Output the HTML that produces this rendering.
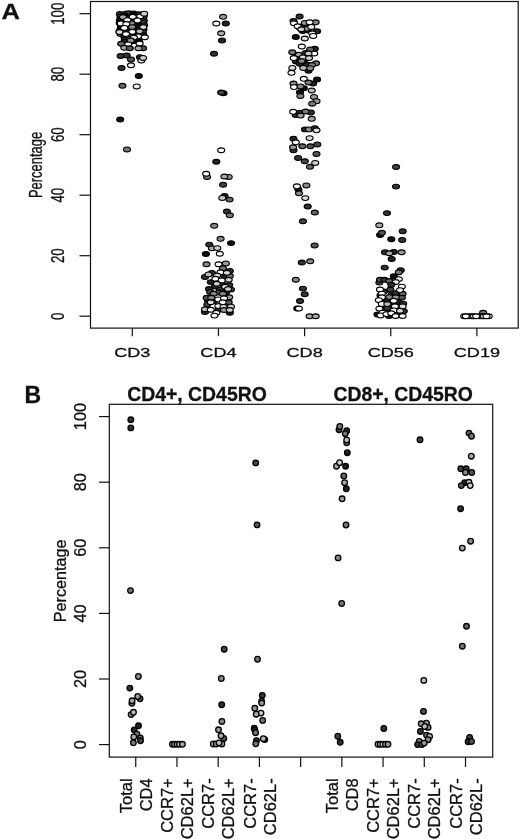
<!DOCTYPE html>
<html><head><meta charset="utf-8"><title>Figure</title>
<style>
html,body{margin:0;padding:0;background:#fff;}
body{width:520px;height:839px;overflow:hidden;font-family:"Liberation Sans",sans-serif;}
svg{display:block;filter:grayscale(1);}
text{font-family:"Liberation Sans",sans-serif;fill:#111;stroke:#111;stroke-width:0.3;}
.ax{stroke:#111;stroke-width:1.2;fill:none;}
.pa ellipse{stroke:#000;stroke-width:1.15;}
.pb circle{stroke:#000;stroke-width:1.3;}
</style></head><body>
<svg width="520" height="839" viewBox="0 0 520 839">
<rect width="520" height="839" fill="#fff"/>

<text transform="translate(1.6,18.5) scale(1.12,1)" font-size="22.8" font-weight="bold">A</text>
<rect class="ax" x="90.5" y="1.5" width="427.7" height="326.6"/>
<line class="ax" x1="79.5" y1="316.20" x2="90.5" y2="316.20"/>
<text transform="translate(63.5,316.20) rotate(-90) scale(0.76,1)" font-size="17.5" text-anchor="middle">0</text>
<line class="ax" x1="79.5" y1="255.70" x2="90.5" y2="255.70"/>
<text transform="translate(63.5,255.70) rotate(-90) scale(0.76,1)" font-size="17.5" text-anchor="middle">20</text>
<line class="ax" x1="79.5" y1="195.20" x2="90.5" y2="195.20"/>
<text transform="translate(63.5,195.20) rotate(-90) scale(0.76,1)" font-size="17.5" text-anchor="middle">40</text>
<line class="ax" x1="79.5" y1="134.70" x2="90.5" y2="134.70"/>
<text transform="translate(63.5,134.70) rotate(-90) scale(0.76,1)" font-size="17.5" text-anchor="middle">60</text>
<line class="ax" x1="79.5" y1="74.20" x2="90.5" y2="74.20"/>
<text transform="translate(63.5,74.20) rotate(-90) scale(0.76,1)" font-size="17.5" text-anchor="middle">80</text>
<line class="ax" x1="79.5" y1="13.70" x2="90.5" y2="13.70"/>
<text transform="translate(63.5,13.70) rotate(-90) scale(0.76,1)" font-size="17.5" text-anchor="middle">100</text>
<text transform="translate(41.5,165.0) rotate(-90) scale(0.74,1)" font-size="17.5" text-anchor="middle">Percentage</text>
<line class="ax" x1="132.30" y1="328.1" x2="132.30" y2="336.2"/>
<text transform="translate(132.30,357.3) scale(1.35,1)" font-size="13.4" text-anchor="middle">CD3</text>
<line class="ax" x1="218.45" y1="328.1" x2="218.45" y2="336.2"/>
<text transform="translate(218.45,357.3) scale(1.35,1)" font-size="13.4" text-anchor="middle">CD4</text>
<line class="ax" x1="304.60" y1="328.1" x2="304.60" y2="336.2"/>
<text transform="translate(304.60,357.3) scale(1.35,1)" font-size="13.4" text-anchor="middle">CD8</text>
<line class="ax" x1="390.75" y1="328.1" x2="390.75" y2="336.2"/>
<text transform="translate(390.75,357.3) scale(1.35,1)" font-size="13.4" text-anchor="middle">CD56</text>
<line class="ax" x1="476.90" y1="328.1" x2="476.90" y2="336.2"/>
<text transform="translate(476.90,357.3) scale(1.35,1)" font-size="13.4" text-anchor="middle">CD19</text>
<g class="pa">
<ellipse cx="119.9" cy="13.9" rx="3.5" ry="2.4" fill="#333"/>
<ellipse cx="125.6" cy="13.8" rx="3.5" ry="2.4" fill="#666"/>
<ellipse cx="128.8" cy="13.2" rx="3.5" ry="2.4" fill="#444"/>
<ellipse cx="133.7" cy="13.5" rx="3.5" ry="2.4" fill="#222"/>
<ellipse cx="138.7" cy="14.2" rx="3.5" ry="2.4" fill="#444"/>
<ellipse cx="143.1" cy="14.2" rx="3.5" ry="2.4" fill="#222"/>
<ellipse cx="120.5" cy="16.5" rx="3.5" ry="2.4" fill="#666"/>
<ellipse cx="124.7" cy="15.5" rx="3.5" ry="2.4" fill="#111"/>
<ellipse cx="129.0" cy="16.6" rx="3.5" ry="2.4" fill="#111"/>
<ellipse cx="133.8" cy="15.5" rx="3.5" ry="2.4" fill="#333"/>
<ellipse cx="138.7" cy="16.4" rx="3.5" ry="2.4" fill="#444"/>
<ellipse cx="143.6" cy="16.6" rx="3.5" ry="2.4" fill="#444"/>
<ellipse cx="120.7" cy="18.5" rx="3.5" ry="2.4" fill="#222"/>
<ellipse cx="125.5" cy="17.9" rx="3.5" ry="2.4" fill="#222"/>
<ellipse cx="129.5" cy="18.1" rx="3.5" ry="2.4" fill="#222"/>
<ellipse cx="134.0" cy="18.6" rx="3.5" ry="2.4" fill="#333"/>
<ellipse cx="138.6" cy="18.8" rx="3.5" ry="2.4" fill="#666"/>
<ellipse cx="143.1" cy="18.5" rx="3.5" ry="2.4" fill="#666"/>
<ellipse cx="119.9" cy="20.5" rx="3.5" ry="2.4" fill="#111"/>
<ellipse cx="125.5" cy="21.3" rx="3.5" ry="2.4" fill="#222"/>
<ellipse cx="129.8" cy="20.9" rx="3.5" ry="2.4" fill="#333"/>
<ellipse cx="134.8" cy="21.2" rx="3.5" ry="2.4" fill="#666"/>
<ellipse cx="138.1" cy="20.9" rx="3.5" ry="2.4" fill="#222"/>
<ellipse cx="143.8" cy="20.8" rx="3.5" ry="2.4" fill="#333"/>
<ellipse cx="119.7" cy="23.0" rx="3.5" ry="2.4" fill="#222"/>
<ellipse cx="125.7" cy="22.5" rx="3.5" ry="2.4" fill="#111"/>
<ellipse cx="129.4" cy="22.6" rx="3.5" ry="2.4" fill="#333"/>
<ellipse cx="134.0" cy="22.9" rx="3.5" ry="2.4" fill="#111"/>
<ellipse cx="138.0" cy="23.1" rx="3.5" ry="2.4" fill="#111"/>
<ellipse cx="143.1" cy="23.1" rx="3.5" ry="2.4" fill="#666"/>
<ellipse cx="120.9" cy="25.9" rx="3.5" ry="2.4" fill="#666"/>
<ellipse cx="124.5" cy="24.7" rx="3.5" ry="2.4" fill="#111"/>
<ellipse cx="128.8" cy="25.4" rx="3.5" ry="2.4" fill="#111"/>
<ellipse cx="134.8" cy="25.9" rx="3.5" ry="2.4" fill="#333"/>
<ellipse cx="138.9" cy="24.9" rx="3.5" ry="2.4" fill="#111"/>
<ellipse cx="144.1" cy="25.1" rx="3.5" ry="2.4" fill="#333"/>
<ellipse cx="121.0" cy="28.1" rx="3.5" ry="2.4" fill="#444"/>
<ellipse cx="124.7" cy="28.0" rx="3.5" ry="2.4" fill="#444"/>
<ellipse cx="129.7" cy="27.7" rx="3.5" ry="2.4" fill="#666"/>
<ellipse cx="133.5" cy="28.2" rx="3.5" ry="2.4" fill="#666"/>
<ellipse cx="138.3" cy="27.8" rx="3.5" ry="2.4" fill="#222"/>
<ellipse cx="142.9" cy="27.4" rx="3.5" ry="2.4" fill="#333"/>
<ellipse cx="120.3" cy="30.0" rx="3.5" ry="2.4" fill="#111"/>
<ellipse cx="125.4" cy="30.5" rx="3.5" ry="2.4" fill="#333"/>
<ellipse cx="128.7" cy="30.0" rx="3.5" ry="2.4" fill="#222"/>
<ellipse cx="133.5" cy="30.1" rx="3.5" ry="2.4" fill="#333"/>
<ellipse cx="138.6" cy="30.1" rx="3.5" ry="2.4" fill="#333"/>
<ellipse cx="143.5" cy="29.6" rx="3.5" ry="2.4" fill="#444"/>
<ellipse cx="119.5" cy="31.7" rx="3.5" ry="2.4" fill="#222"/>
<ellipse cx="124.1" cy="32.0" rx="3.5" ry="2.4" fill="#222"/>
<ellipse cx="129.4" cy="32.3" rx="3.5" ry="2.4" fill="#333"/>
<ellipse cx="133.6" cy="31.8" rx="3.5" ry="2.4" fill="#333"/>
<ellipse cx="139.3" cy="31.9" rx="3.5" ry="2.4" fill="#444"/>
<ellipse cx="142.7" cy="32.6" rx="3.5" ry="2.4" fill="#666"/>
<ellipse cx="120.6" cy="34.1" rx="3.5" ry="2.4" fill="#666"/>
<ellipse cx="124.5" cy="34.9" rx="3.5" ry="2.4" fill="#222"/>
<ellipse cx="129.2" cy="34.7" rx="3.5" ry="2.4" fill="#222"/>
<ellipse cx="134.4" cy="34.0" rx="3.5" ry="2.4" fill="#333"/>
<ellipse cx="139.4" cy="34.7" rx="3.5" ry="2.4" fill="#222"/>
<ellipse cx="143.2" cy="34.9" rx="3.5" ry="2.4" fill="#222"/>
<ellipse cx="124.4" cy="36.9" rx="3.5" ry="2.4" fill="#333"/>
<ellipse cx="129.1" cy="36.3" rx="3.5" ry="2.4" fill="#666"/>
<ellipse cx="134.8" cy="36.6" rx="3.5" ry="2.4" fill="#666"/>
<ellipse cx="138.2" cy="36.5" rx="3.5" ry="2.4" fill="#222"/>
<ellipse cx="124.9" cy="39.5" rx="3.5" ry="2.4" fill="#444"/>
<ellipse cx="129.3" cy="39.0" rx="3.5" ry="2.4" fill="#444"/>
<ellipse cx="134.2" cy="38.5" rx="3.5" ry="2.4" fill="#444"/>
<ellipse cx="138.1" cy="38.5" rx="3.5" ry="2.4" fill="#666"/>
<ellipse cx="124.5" cy="41.7" rx="3.5" ry="2.4" fill="#222"/>
<ellipse cx="129.9" cy="42.0" rx="3.5" ry="2.4" fill="#666"/>
<ellipse cx="133.8" cy="41.1" rx="3.5" ry="2.4" fill="#111"/>
<ellipse cx="139.3" cy="42.0" rx="3.5" ry="2.4" fill="#111"/>
<ellipse cx="123.0" cy="17.1" rx="3.5" ry="2.4" fill="#aaa"/>
<ellipse cx="131.6" cy="23.2" rx="3.5" ry="2.4" fill="#888"/>
<ellipse cx="132.7" cy="16.7" rx="3.5" ry="2.4" fill="#fff"/>
<ellipse cx="140.3" cy="16.2" rx="3.5" ry="2.4" fill="#fff"/>
<ellipse cx="144.2" cy="13.7" rx="3.5" ry="2.4" fill="#ccc"/>
<ellipse cx="127.3" cy="20.1" rx="3.5" ry="2.4" fill="#fff"/>
<ellipse cx="137.5" cy="20.4" rx="3.5" ry="2.4" fill="#fff"/>
<ellipse cx="120.8" cy="23.4" rx="3.5" ry="2.4" fill="#fff"/>
<ellipse cx="126.3" cy="24.0" rx="3.5" ry="2.4" fill="#fff"/>
<ellipse cx="124.3" cy="27.9" rx="3.5" ry="2.4" fill="#fff"/>
<ellipse cx="132.1" cy="27.1" rx="3.5" ry="2.4" fill="#888"/>
<ellipse cx="143.3" cy="27.1" rx="3.5" ry="2.4" fill="#ddd"/>
<ellipse cx="119.5" cy="32.0" rx="3.5" ry="2.4" fill="#ddd"/>
<ellipse cx="132.3" cy="31.8" rx="3.5" ry="2.4" fill="#fff"/>
<ellipse cx="139.6" cy="31.2" rx="3.5" ry="2.4" fill="#bbb"/>
<ellipse cx="126.0" cy="34.0" rx="3.5" ry="2.4" fill="#fff"/>
<ellipse cx="138.1" cy="36.2" rx="3.5" ry="2.4" fill="#fff"/>
<ellipse cx="144.8" cy="37.3" rx="3.5" ry="2.4" fill="#fff"/>
<ellipse cx="133.9" cy="37.5" rx="3.5" ry="2.4" fill="#ddd"/>
<ellipse cx="130.8" cy="40.6" rx="3.5" ry="2.4" fill="#999"/>
<ellipse cx="128.1" cy="44.4" rx="3.5" ry="2.4" fill="#fff"/>
<ellipse cx="139.6" cy="43.6" rx="3.5" ry="2.4" fill="#fff"/>
<ellipse cx="121.2" cy="43.8" rx="3.5" ry="2.4" fill="#666"/>
<ellipse cx="124.3" cy="47.8" rx="3.5" ry="2.4" fill="#aaa"/>
<ellipse cx="129.8" cy="48.3" rx="3.5" ry="2.4" fill="#555"/>
<ellipse cx="143.1" cy="48.3" rx="3.5" ry="2.4" fill="#555"/>
<ellipse cx="138.5" cy="48.3" rx="3.5" ry="2.4" fill="#aaa"/>
<ellipse cx="120.6" cy="55.9" rx="3.5" ry="2.4" fill="#333"/>
<ellipse cx="126.7" cy="55.6" rx="3.5" ry="2.4" fill="#333"/>
<ellipse cx="131.0" cy="59.4" rx="3.5" ry="2.4" fill="#555"/>
<ellipse cx="140.0" cy="57.3" rx="3.5" ry="2.4" fill="#222"/>
<ellipse cx="141.3" cy="60.5" rx="3.5" ry="2.4" fill="#eee"/>
<ellipse cx="143.1" cy="57.9" rx="3.5" ry="2.4" fill="#ccc"/>
<ellipse cx="131.0" cy="65.2" rx="3.5" ry="2.4" fill="#eee"/>
<ellipse cx="121.5" cy="68.0" rx="3.5" ry="2.4" fill="#333"/>
<ellipse cx="138.8" cy="76.0" rx="3.5" ry="2.4" fill="#111"/>
<ellipse cx="122.5" cy="85.8" rx="3.5" ry="2.4" fill="#666"/>
<ellipse cx="136.7" cy="86.4" rx="3.5" ry="2.4" fill="#eee"/>
<ellipse cx="120.2" cy="119.4" rx="3.5" ry="2.4" fill="#111"/>
<ellipse cx="127.0" cy="149.4" rx="3.5" ry="2.4" fill="#777"/>
<ellipse cx="223.1" cy="16.8" rx="3.5" ry="2.4" fill="#999"/>
<ellipse cx="216.3" cy="23.5" rx="3.5" ry="2.4" fill="#fff"/>
<ellipse cx="225.8" cy="23.5" rx="3.5" ry="2.4" fill="#222"/>
<ellipse cx="221.2" cy="33.3" rx="3.5" ry="2.4" fill="#aaa"/>
<ellipse cx="222.0" cy="40.4" rx="3.5" ry="2.4" fill="#222"/>
<ellipse cx="214.0" cy="53.7" rx="3.5" ry="2.4" fill="#333"/>
<ellipse cx="223.5" cy="93.3" rx="3.5" ry="2.4" fill="#111"/>
<ellipse cx="221.2" cy="92.5" rx="3.5" ry="2.4" fill="#444"/>
<ellipse cx="221.2" cy="150.2" rx="3.5" ry="2.4" fill="#fff"/>
<ellipse cx="216.3" cy="161.7" rx="3.5" ry="2.4" fill="#222"/>
<ellipse cx="207.1" cy="176.9" rx="3.5" ry="2.4" fill="#777"/>
<ellipse cx="206.2" cy="173.7" rx="3.5" ry="2.4" fill="#fff"/>
<ellipse cx="228.7" cy="176.9" rx="3.5" ry="2.4" fill="#999"/>
<ellipse cx="224.4" cy="176.5" rx="3.5" ry="2.4" fill="#aaa"/>
<ellipse cx="223.1" cy="184.8" rx="3.5" ry="2.4" fill="#444"/>
<ellipse cx="224.6" cy="195.9" rx="3.5" ry="2.4" fill="#222"/>
<ellipse cx="222.3" cy="197.9" rx="3.5" ry="2.4" fill="#ccc"/>
<ellipse cx="229.6" cy="199.6" rx="3.5" ry="2.4" fill="#666"/>
<ellipse cx="226.9" cy="211.5" rx="3.5" ry="2.4" fill="#333"/>
<ellipse cx="229.8" cy="215.2" rx="3.5" ry="2.4" fill="#777"/>
<ellipse cx="214.2" cy="225.8" rx="3.5" ry="2.4" fill="#888"/>
<ellipse cx="220.6" cy="238.8" rx="3.5" ry="2.4" fill="#888"/>
<ellipse cx="231.0" cy="243.1" rx="3.5" ry="2.4" fill="#111"/>
<ellipse cx="209.3" cy="244.6" rx="3.5" ry="2.4" fill="#333"/>
<ellipse cx="211.9" cy="248.3" rx="3.5" ry="2.4" fill="#aaa"/>
<ellipse cx="217.3" cy="248.1" rx="3.5" ry="2.4" fill="#ccc"/>
<ellipse cx="205.9" cy="254.0" rx="3.5" ry="2.4" fill="#111"/>
<ellipse cx="219.8" cy="253.7" rx="3.5" ry="2.4" fill="#fff"/>
<ellipse cx="206.5" cy="264.2" rx="3.5" ry="2.4" fill="#888"/>
<ellipse cx="218.6" cy="264.2" rx="3.5" ry="2.4" fill="#fff"/>
<ellipse cx="225.8" cy="263.4" rx="3.5" ry="2.4" fill="#999"/>
<ellipse cx="222.9" cy="268.3" rx="3.5" ry="2.4" fill="#777"/>
<ellipse cx="229.8" cy="270.9" rx="3.5" ry="2.4" fill="#333"/>
<ellipse cx="222.0" cy="284.0" rx="3.5" ry="2.4" fill="#222"/>
<ellipse cx="226.0" cy="292.5" rx="3.5" ry="2.4" fill="#222"/>
<ellipse cx="209.0" cy="289.0" rx="3.5" ry="2.4" fill="#333"/>
<ellipse cx="214.0" cy="301.0" rx="3.5" ry="2.4" fill="#222"/>
<ellipse cx="226.0" cy="305.0" rx="3.5" ry="2.4" fill="#222"/>
<ellipse cx="219.0" cy="309.5" rx="3.5" ry="2.4" fill="#333"/>
<ellipse cx="208.0" cy="300.5" rx="3.5" ry="2.4" fill="#222"/>
<ellipse cx="215.0" cy="286.5" rx="3.5" ry="2.4" fill="#222"/>
<ellipse cx="225.0" cy="277.0" rx="3.5" ry="2.4" fill="#222"/>
<ellipse cx="211.9" cy="272.9" rx="3.5" ry="2.4" fill="#333"/>
<ellipse cx="205.0" cy="276.9" rx="3.5" ry="2.4" fill="#333"/>
<ellipse cx="229.8" cy="276.0" rx="3.5" ry="2.4" fill="#777"/>
<ellipse cx="210.8" cy="282.1" rx="3.5" ry="2.4" fill="#222"/>
<ellipse cx="229.2" cy="285.0" rx="3.5" ry="2.4" fill="#333"/>
<ellipse cx="231.0" cy="289.6" rx="3.5" ry="2.4" fill="#444"/>
<ellipse cx="220.0" cy="289.6" rx="3.5" ry="2.4" fill="#333"/>
<ellipse cx="210.2" cy="291.9" rx="3.5" ry="2.4" fill="#444"/>
<ellipse cx="218.8" cy="292.5" rx="3.5" ry="2.4" fill="#555"/>
<ellipse cx="206.7" cy="297.7" rx="3.5" ry="2.4" fill="#555"/>
<ellipse cx="228.7" cy="302.3" rx="3.5" ry="2.4" fill="#555"/>
<ellipse cx="207.3" cy="304.6" rx="3.5" ry="2.4" fill="#444"/>
<ellipse cx="205.0" cy="312.1" rx="3.5" ry="2.4" fill="#222"/>
<ellipse cx="229.8" cy="312.7" rx="3.5" ry="2.4" fill="#222"/>
<ellipse cx="220.6" cy="272.3" rx="3.5" ry="2.4" fill="#fff"/>
<ellipse cx="226.9" cy="272.7" rx="3.5" ry="2.4" fill="#ddd"/>
<ellipse cx="208.5" cy="274.4" rx="3.5" ry="2.4" fill="#bbb"/>
<ellipse cx="217.1" cy="275.5" rx="3.5" ry="2.4" fill="#ddd"/>
<ellipse cx="215.4" cy="278.7" rx="3.5" ry="2.4" fill="#fff"/>
<ellipse cx="228.7" cy="279.8" rx="3.5" ry="2.4" fill="#ccc"/>
<ellipse cx="221.7" cy="280.4" rx="3.5" ry="2.4" fill="#fff"/>
<ellipse cx="216.8" cy="283.8" rx="3.5" ry="2.4" fill="#ccc"/>
<ellipse cx="225.2" cy="286.7" rx="3.5" ry="2.4" fill="#eee"/>
<ellipse cx="228.1" cy="289.0" rx="3.5" ry="2.4" fill="#ccc"/>
<ellipse cx="213.7" cy="293.7" rx="3.5" ry="2.4" fill="#888"/>
<ellipse cx="222.9" cy="293.7" rx="3.5" ry="2.4" fill="#888"/>
<ellipse cx="229.2" cy="297.3" rx="3.5" ry="2.4" fill="#999"/>
<ellipse cx="211.3" cy="297.7" rx="3.5" ry="2.4" fill="#888"/>
<ellipse cx="218.3" cy="299.4" rx="3.5" ry="2.4" fill="#fff"/>
<ellipse cx="224.0" cy="298.3" rx="3.5" ry="2.4" fill="#fff"/>
<ellipse cx="210.8" cy="302.3" rx="3.5" ry="2.4" fill="#ddd"/>
<ellipse cx="222.7" cy="302.3" rx="3.5" ry="2.4" fill="#fff"/>
<ellipse cx="218.3" cy="306.0" rx="3.5" ry="2.4" fill="#fff"/>
<ellipse cx="231.0" cy="306.6" rx="3.5" ry="2.4" fill="#ccc"/>
<ellipse cx="223.5" cy="306.9" rx="3.5" ry="2.4" fill="#ddd"/>
<ellipse cx="205.0" cy="309.2" rx="3.5" ry="2.4" fill="#bbb"/>
<ellipse cx="210.8" cy="309.8" rx="3.5" ry="2.4" fill="#fff"/>
<ellipse cx="224.0" cy="310.0" rx="3.5" ry="2.4" fill="#999"/>
<ellipse cx="229.8" cy="310.0" rx="3.5" ry="2.4" fill="#ccc"/>
<ellipse cx="216.3" cy="312.7" rx="3.5" ry="2.4" fill="#fff"/>
<ellipse cx="214.5" cy="315.6" rx="3.5" ry="2.4" fill="#fff"/>
<ellipse cx="299.5" cy="27.5" rx="3.5" ry="2.4" fill="#222"/>
<ellipse cx="304.0" cy="25.5" rx="3.5" ry="2.4" fill="#222"/>
<ellipse cx="308.0" cy="30.5" rx="3.5" ry="2.4" fill="#333"/>
<ellipse cx="297.0" cy="55.0" rx="3.5" ry="2.4" fill="#222"/>
<ellipse cx="304.0" cy="60.0" rx="3.5" ry="2.4" fill="#222"/>
<ellipse cx="307.0" cy="64.5" rx="3.5" ry="2.4" fill="#222"/>
<ellipse cx="296.0" cy="61.5" rx="3.5" ry="2.4" fill="#222"/>
<ellipse cx="299.6" cy="16.5" rx="3.5" ry="2.4" fill="#333"/>
<ellipse cx="293.5" cy="20.9" rx="3.5" ry="2.4" fill="#333"/>
<ellipse cx="294.0" cy="23.2" rx="3.5" ry="2.4" fill="#fff"/>
<ellipse cx="304.8" cy="22.9" rx="3.5" ry="2.4" fill="#999"/>
<ellipse cx="315.6" cy="22.3" rx="3.5" ry="2.4" fill="#888"/>
<ellipse cx="309.6" cy="22.3" rx="3.5" ry="2.4" fill="#fff"/>
<ellipse cx="302.7" cy="31.0" rx="3.5" ry="2.4" fill="#222"/>
<ellipse cx="297.7" cy="26.3" rx="3.5" ry="2.4" fill="#fff"/>
<ellipse cx="306.7" cy="28.7" rx="3.5" ry="2.4" fill="#999"/>
<ellipse cx="311.3" cy="26.9" rx="3.5" ry="2.4" fill="#eee"/>
<ellipse cx="301.3" cy="29.2" rx="3.5" ry="2.4" fill="#ccc"/>
<ellipse cx="317.1" cy="31.3" rx="3.5" ry="2.4" fill="#222"/>
<ellipse cx="312.2" cy="33.3" rx="3.5" ry="2.4" fill="#eee"/>
<ellipse cx="313.1" cy="35.9" rx="3.5" ry="2.4" fill="#fff"/>
<ellipse cx="295.8" cy="37.1" rx="3.5" ry="2.4" fill="#111"/>
<ellipse cx="304.8" cy="38.5" rx="3.5" ry="2.4" fill="#ddd"/>
<ellipse cx="301.8" cy="46.5" rx="3.5" ry="2.4" fill="#fff"/>
<ellipse cx="314.8" cy="48.8" rx="3.5" ry="2.4" fill="#222"/>
<ellipse cx="310.2" cy="49.4" rx="3.5" ry="2.4" fill="#666"/>
<ellipse cx="292.3" cy="52.3" rx="3.5" ry="2.4" fill="#777"/>
<ellipse cx="305.6" cy="52.9" rx="3.5" ry="2.4" fill="#333"/>
<ellipse cx="314.2" cy="53.5" rx="3.5" ry="2.4" fill="#fff"/>
<ellipse cx="308.5" cy="53.5" rx="3.5" ry="2.4" fill="#ccc"/>
<ellipse cx="298.9" cy="54.8" rx="3.5" ry="2.4" fill="#aaa"/>
<ellipse cx="299.0" cy="59.0" rx="3.5" ry="2.4" fill="#222"/>
<ellipse cx="293.8" cy="58.1" rx="3.5" ry="2.4" fill="#fff"/>
<ellipse cx="303.0" cy="57.2" rx="3.5" ry="2.4" fill="#ddd"/>
<ellipse cx="309.0" cy="58.1" rx="3.5" ry="2.4" fill="#ccc"/>
<ellipse cx="299.8" cy="63.8" rx="3.5" ry="2.4" fill="#222"/>
<ellipse cx="301.5" cy="61.0" rx="3.5" ry="2.4" fill="#888"/>
<ellipse cx="316.0" cy="63.3" rx="3.5" ry="2.4" fill="#777"/>
<ellipse cx="308.5" cy="70.8" rx="3.5" ry="2.4" fill="#222"/>
<ellipse cx="311.9" cy="65.0" rx="3.5" ry="2.4" fill="#888"/>
<ellipse cx="303.3" cy="67.9" rx="3.5" ry="2.4" fill="#bbb"/>
<ellipse cx="292.3" cy="67.9" rx="3.5" ry="2.4" fill="#ddd"/>
<ellipse cx="310.2" cy="68.2" rx="3.5" ry="2.4" fill="#888"/>
<ellipse cx="291.5" cy="72.8" rx="3.5" ry="2.4" fill="#fff"/>
<ellipse cx="303.8" cy="78.8" rx="3.5" ry="2.4" fill="#fff"/>
<ellipse cx="317.1" cy="79.4" rx="3.5" ry="2.4" fill="#111"/>
<ellipse cx="313.1" cy="83.5" rx="3.5" ry="2.4" fill="#222"/>
<ellipse cx="293.5" cy="83.5" rx="3.5" ry="2.4" fill="#888"/>
<ellipse cx="308.5" cy="82.5" rx="3.5" ry="2.4" fill="#777"/>
<ellipse cx="303.8" cy="88.3" rx="3.5" ry="2.4" fill="#111"/>
<ellipse cx="294.0" cy="87.1" rx="3.5" ry="2.4" fill="#fff"/>
<ellipse cx="300.5" cy="86.4" rx="3.5" ry="2.4" fill="#888"/>
<ellipse cx="311.7" cy="90.5" rx="3.5" ry="2.4" fill="#bbb"/>
<ellipse cx="300.0" cy="92.2" rx="3.5" ry="2.4" fill="#111"/>
<ellipse cx="300.4" cy="96.0" rx="3.5" ry="2.4" fill="#888"/>
<ellipse cx="314.0" cy="96.9" rx="3.5" ry="2.4" fill="#999"/>
<ellipse cx="316.5" cy="101.2" rx="3.5" ry="2.4" fill="#999"/>
<ellipse cx="312.2" cy="103.7" rx="3.5" ry="2.4" fill="#777"/>
<ellipse cx="295.8" cy="115.0" rx="3.5" ry="2.4" fill="#333"/>
<ellipse cx="293.2" cy="111.8" rx="3.5" ry="2.4" fill="#fff"/>
<ellipse cx="299.8" cy="112.7" rx="3.5" ry="2.4" fill="#222"/>
<ellipse cx="310.8" cy="112.5" rx="3.5" ry="2.4" fill="#333"/>
<ellipse cx="305.6" cy="111.5" rx="3.5" ry="2.4" fill="#777"/>
<ellipse cx="300.6" cy="115.6" rx="3.5" ry="2.4" fill="#999"/>
<ellipse cx="311.7" cy="118.8" rx="3.5" ry="2.4" fill="#aaa"/>
<ellipse cx="305.0" cy="129.4" rx="3.5" ry="2.4" fill="#222"/>
<ellipse cx="309.0" cy="129.4" rx="3.5" ry="2.4" fill="#888"/>
<ellipse cx="314.8" cy="128.3" rx="3.5" ry="2.4" fill="#333"/>
<ellipse cx="316.5" cy="130.3" rx="3.5" ry="2.4" fill="#ddd"/>
<ellipse cx="309.6" cy="138.1" rx="3.5" ry="2.4" fill="#ddd"/>
<ellipse cx="293.5" cy="138.7" rx="3.5" ry="2.4" fill="#222"/>
<ellipse cx="295.8" cy="142.3" rx="3.5" ry="2.4" fill="#fff"/>
<ellipse cx="317.3" cy="144.4" rx="3.5" ry="2.4" fill="#444"/>
<ellipse cx="302.3" cy="146.2" rx="3.5" ry="2.4" fill="#666"/>
<ellipse cx="310.4" cy="146.2" rx="3.5" ry="2.4" fill="#555"/>
<ellipse cx="293.5" cy="150.2" rx="3.5" ry="2.4" fill="#333"/>
<ellipse cx="293.1" cy="147.3" rx="3.5" ry="2.4" fill="#999"/>
<ellipse cx="316.5" cy="153.9" rx="3.5" ry="2.4" fill="#555"/>
<ellipse cx="298.1" cy="157.9" rx="3.5" ry="2.4" fill="#333"/>
<ellipse cx="304.8" cy="161.2" rx="3.5" ry="2.4" fill="#444"/>
<ellipse cx="315.2" cy="162.9" rx="3.5" ry="2.4" fill="#ccc"/>
<ellipse cx="310.0" cy="166.8" rx="3.5" ry="2.4" fill="#666"/>
<ellipse cx="298.4" cy="189.5" rx="3.5" ry="2.4" fill="#111"/>
<ellipse cx="296.9" cy="186.3" rx="3.5" ry="2.4" fill="#fff"/>
<ellipse cx="306.4" cy="185.4" rx="3.5" ry="2.4" fill="#888"/>
<ellipse cx="299.0" cy="193.3" rx="3.5" ry="2.4" fill="#888"/>
<ellipse cx="305.3" cy="198.1" rx="3.5" ry="2.4" fill="#ddd"/>
<ellipse cx="307.7" cy="206.5" rx="3.5" ry="2.4" fill="#333"/>
<ellipse cx="314.8" cy="212.5" rx="3.5" ry="2.4" fill="#666"/>
<ellipse cx="302.9" cy="221.2" rx="3.5" ry="2.4" fill="#444"/>
<ellipse cx="314.6" cy="245.4" rx="3.5" ry="2.4" fill="#555"/>
<ellipse cx="301.8" cy="262.5" rx="3.5" ry="2.4" fill="#333"/>
<ellipse cx="310.2" cy="261.2" rx="3.5" ry="2.4" fill="#888"/>
<ellipse cx="295.8" cy="279.8" rx="3.5" ry="2.4" fill="#888"/>
<ellipse cx="302.9" cy="288.6" rx="3.5" ry="2.4" fill="#333"/>
<ellipse cx="304.7" cy="294.3" rx="3.5" ry="2.4" fill="#333"/>
<ellipse cx="300.0" cy="301.0" rx="3.5" ry="2.4" fill="#333"/>
<ellipse cx="297.3" cy="308.5" rx="3.5" ry="2.4" fill="#111"/>
<ellipse cx="298.9" cy="308.5" rx="3.5" ry="2.4" fill="#fff"/>
<ellipse cx="309.6" cy="316.3" rx="3.5" ry="2.4" fill="#aaa"/>
<ellipse cx="315.7" cy="316.3" rx="3.5" ry="2.4" fill="#aaa"/>
<ellipse cx="396.1" cy="167.0" rx="3.5" ry="2.4" fill="#444"/>
<ellipse cx="396.0" cy="186.6" rx="3.5" ry="2.4" fill="#333"/>
<ellipse cx="387.0" cy="213.1" rx="3.5" ry="2.4" fill="#333"/>
<ellipse cx="379.3" cy="225.3" rx="3.5" ry="2.4" fill="#aaa"/>
<ellipse cx="402.7" cy="231.3" rx="3.5" ry="2.4" fill="#333"/>
<ellipse cx="380.1" cy="235.0" rx="3.5" ry="2.4" fill="#111"/>
<ellipse cx="381.9" cy="232.8" rx="3.5" ry="2.4" fill="#555"/>
<ellipse cx="391.3" cy="239.2" rx="3.5" ry="2.4" fill="#111"/>
<ellipse cx="402.2" cy="239.9" rx="3.5" ry="2.4" fill="#333"/>
<ellipse cx="385.0" cy="252.3" rx="3.5" ry="2.4" fill="#333"/>
<ellipse cx="393.8" cy="251.9" rx="3.5" ry="2.4" fill="#222"/>
<ellipse cx="389.4" cy="253.2" rx="3.5" ry="2.4" fill="#aaa"/>
<ellipse cx="401.6" cy="252.2" rx="3.5" ry="2.4" fill="#999"/>
<ellipse cx="391.7" cy="259.0" rx="3.5" ry="2.4" fill="#222"/>
<ellipse cx="384.7" cy="267.6" rx="3.5" ry="2.4" fill="#333"/>
<ellipse cx="400.7" cy="270.3" rx="3.5" ry="2.4" fill="#333"/>
<ellipse cx="398.8" cy="272.3" rx="3.5" ry="2.4" fill="#777"/>
<ellipse cx="393.8" cy="276.3" rx="3.5" ry="2.4" fill="#111"/>
<ellipse cx="398.8" cy="279.1" rx="3.5" ry="2.4" fill="#eee"/>
<ellipse cx="379.4" cy="282.6" rx="3.5" ry="2.4" fill="#444"/>
<ellipse cx="380.0" cy="279.7" rx="3.5" ry="2.4" fill="#555"/>
<ellipse cx="384.4" cy="279.7" rx="3.5" ry="2.4" fill="#333"/>
<ellipse cx="389.4" cy="281.0" rx="3.5" ry="2.4" fill="#666"/>
<ellipse cx="395.7" cy="282.0" rx="3.5" ry="2.4" fill="#fff"/>
<ellipse cx="391.3" cy="284.8" rx="3.5" ry="2.4" fill="#333"/>
<ellipse cx="384.0" cy="291.5" rx="3.5" ry="2.4" fill="#222"/>
<ellipse cx="380.5" cy="295.5" rx="3.5" ry="2.4" fill="#222"/>
<ellipse cx="386.0" cy="300.0" rx="3.5" ry="2.4" fill="#222"/>
<ellipse cx="392.0" cy="294.0" rx="3.5" ry="2.4" fill="#222"/>
<ellipse cx="398.0" cy="295.5" rx="3.5" ry="2.4" fill="#222"/>
<ellipse cx="391.0" cy="302.5" rx="3.5" ry="2.4" fill="#222"/>
<ellipse cx="398.5" cy="302.0" rx="3.5" ry="2.4" fill="#222"/>
<ellipse cx="384.5" cy="306.0" rx="3.5" ry="2.4" fill="#222"/>
<ellipse cx="397.5" cy="308.5" rx="3.5" ry="2.4" fill="#222"/>
<ellipse cx="391.0" cy="309.0" rx="3.5" ry="2.4" fill="#222"/>
<ellipse cx="384.0" cy="310.5" rx="3.5" ry="2.4" fill="#222"/>
<ellipse cx="389.0" cy="316.0" rx="3.5" ry="2.4" fill="#222"/>
<ellipse cx="399.0" cy="313.5" rx="3.5" ry="2.4" fill="#222"/>
<ellipse cx="381.0" cy="301.5" rx="3.5" ry="2.4" fill="#222"/>
<ellipse cx="390.4" cy="289.5" rx="3.5" ry="2.4" fill="#444"/>
<ellipse cx="395.7" cy="293.2" rx="3.5" ry="2.4" fill="#333"/>
<ellipse cx="402.6" cy="293.8" rx="3.5" ry="2.4" fill="#666"/>
<ellipse cx="401.9" cy="297.6" rx="3.5" ry="2.4" fill="#555"/>
<ellipse cx="403.2" cy="303.6" rx="3.5" ry="2.4" fill="#333"/>
<ellipse cx="387.5" cy="308.2" rx="3.5" ry="2.4" fill="#333"/>
<ellipse cx="403.8" cy="311.1" rx="3.5" ry="2.4" fill="#333"/>
<ellipse cx="377.5" cy="314.5" rx="3.5" ry="2.4" fill="#111"/>
<ellipse cx="401.9" cy="286.6" rx="3.5" ry="2.4" fill="#fff"/>
<ellipse cx="380.0" cy="289.5" rx="3.5" ry="2.4" fill="#fff"/>
<ellipse cx="400.0" cy="290.1" rx="3.5" ry="2.4" fill="#eee"/>
<ellipse cx="381.9" cy="293.6" rx="3.5" ry="2.4" fill="#fff"/>
<ellipse cx="389.4" cy="297.0" rx="3.5" ry="2.4" fill="#888"/>
<ellipse cx="395.7" cy="297.3" rx="3.5" ry="2.4" fill="#999"/>
<ellipse cx="381.9" cy="297.3" rx="3.5" ry="2.4" fill="#fff"/>
<ellipse cx="378.8" cy="300.1" rx="3.5" ry="2.4" fill="#fff"/>
<ellipse cx="393.8" cy="300.7" rx="3.5" ry="2.4" fill="#fff"/>
<ellipse cx="381.9" cy="303.9" rx="3.5" ry="2.4" fill="#fff"/>
<ellipse cx="387.3" cy="304.1" rx="3.5" ry="2.4" fill="#bbb"/>
<ellipse cx="395.0" cy="306.4" rx="3.5" ry="2.4" fill="#fff"/>
<ellipse cx="402.6" cy="306.4" rx="3.5" ry="2.4" fill="#ddd"/>
<ellipse cx="379.4" cy="308.6" rx="3.5" ry="2.4" fill="#fff"/>
<ellipse cx="393.8" cy="310.4" rx="3.5" ry="2.4" fill="#fff"/>
<ellipse cx="400.0" cy="310.7" rx="3.5" ry="2.4" fill="#ddd"/>
<ellipse cx="382.5" cy="312.6" rx="3.5" ry="2.4" fill="#fff"/>
<ellipse cx="380.6" cy="315.4" rx="3.5" ry="2.4" fill="#fff"/>
<ellipse cx="386.5" cy="314.1" rx="3.5" ry="2.4" fill="#fff"/>
<ellipse cx="391.3" cy="313.2" rx="3.5" ry="2.4" fill="#fff"/>
<ellipse cx="395.7" cy="316.0" rx="3.5" ry="2.4" fill="#fff"/>
<ellipse cx="402.6" cy="316.0" rx="3.5" ry="2.4" fill="#fff"/>
<ellipse cx="483.1" cy="312.7" rx="3.5" ry="2.4" fill="#777"/>
<ellipse cx="464.2" cy="316.3" rx="3.5" ry="2.4" fill="#fff"/>
<ellipse cx="469.0" cy="316.3" rx="3.5" ry="2.4" fill="#fff"/>
<ellipse cx="472.0" cy="316.3" rx="3.5" ry="2.4" fill="#fff"/>
<ellipse cx="474.0" cy="316.3" rx="3.5" ry="2.4" fill="#fff"/>
<ellipse cx="479.5" cy="316.3" rx="3.5" ry="2.4" fill="#fff"/>
<ellipse cx="482.0" cy="316.3" rx="3.5" ry="2.4" fill="#fff"/>
<ellipse cx="484.0" cy="316.3" rx="3.5" ry="2.4" fill="#fff"/>
<ellipse cx="488.7" cy="316.3" rx="3.5" ry="2.4" fill="#fff"/>
<ellipse cx="465.8" cy="316.3" rx="3.5" ry="2.4" fill="#fff"/>
<ellipse cx="476.2" cy="316.3" rx="3.5" ry="2.4" fill="#fff"/>
<ellipse cx="486.5" cy="316.3" rx="3.5" ry="2.4" fill="#fff"/>
</g>
<text x="24.5" y="403.3" font-size="23" font-weight="bold" fill="#000">B</text>
<rect class="ax" x="109.3" y="404.3" width="383.4" height="352.8"/>
<line class="ax" x1="99" y1="744.60" x2="109.3" y2="744.60"/>
<text transform="translate(86.2,744.60) rotate(-90)" font-size="16.3" text-anchor="middle">0</text>
<line class="ax" x1="99" y1="679.00" x2="109.3" y2="679.00"/>
<text transform="translate(86.2,679.00) rotate(-90)" font-size="16.3" text-anchor="middle">20</text>
<line class="ax" x1="99" y1="613.40" x2="109.3" y2="613.40"/>
<text transform="translate(86.2,613.40) rotate(-90)" font-size="16.3" text-anchor="middle">40</text>
<line class="ax" x1="99" y1="547.80" x2="109.3" y2="547.80"/>
<text transform="translate(86.2,547.80) rotate(-90)" font-size="16.3" text-anchor="middle">60</text>
<line class="ax" x1="99" y1="482.20" x2="109.3" y2="482.20"/>
<text transform="translate(86.2,482.20) rotate(-90)" font-size="16.3" text-anchor="middle">80</text>
<line class="ax" x1="99" y1="416.60" x2="109.3" y2="416.60"/>
<text transform="translate(86.2,416.60) rotate(-90)" font-size="16.3" text-anchor="middle">100</text>
<text transform="translate(65.9,580.9) rotate(-90)" font-size="16.15" text-anchor="middle">Percentage</text>
<text x="197" y="401.2" font-size="19.4" font-weight="bold" text-anchor="middle">CD4+, CD45RO</text>
<text x="403.2" y="401.2" font-size="19.4" font-weight="bold" text-anchor="middle">CD8+, CD45RO</text>
<line class="ax" x1="135.75" y1="757.1" x2="135.75" y2="767"/>
<text transform="translate(131.85,778.3) rotate(-90)" font-size="16.5" text-anchor="end">Total</text>
<text transform="translate(151.85,778.3) rotate(-90)" font-size="16.5" text-anchor="end">CD4</text>
<line class="ax" x1="176.97" y1="757.1" x2="176.97" y2="767"/>
<text transform="translate(173.07,778.3) rotate(-90)" font-size="16.5" text-anchor="end">CCR7+</text>
<text transform="translate(193.07,778.3) rotate(-90)" font-size="16.5" text-anchor="end">CD62L+</text>
<line class="ax" x1="218.19" y1="757.1" x2="218.19" y2="767"/>
<text transform="translate(214.29,778.3) rotate(-90)" font-size="16.5" text-anchor="end">CCR7-</text>
<text transform="translate(234.29,778.3) rotate(-90)" font-size="16.5" text-anchor="end">CD62L+</text>
<line class="ax" x1="259.41" y1="757.1" x2="259.41" y2="767"/>
<text transform="translate(255.51,778.3) rotate(-90)" font-size="16.5" text-anchor="end">CCR7-</text>
<text transform="translate(275.51,778.3) rotate(-90)" font-size="16.5" text-anchor="end">CD62L-</text>
<line class="ax" x1="300.63" y1="757.1" x2="300.63" y2="767"/>
<line class="ax" x1="341.85" y1="757.1" x2="341.85" y2="767"/>
<text transform="translate(337.95,778.3) rotate(-90)" font-size="16.5" text-anchor="end">Total</text>
<text transform="translate(357.95,778.3) rotate(-90)" font-size="16.5" text-anchor="end">CD8</text>
<line class="ax" x1="383.07" y1="757.1" x2="383.07" y2="767"/>
<text transform="translate(379.17,778.3) rotate(-90)" font-size="16.5" text-anchor="end">CCR7+</text>
<text transform="translate(399.17,778.3) rotate(-90)" font-size="16.5" text-anchor="end">CD62L+</text>
<line class="ax" x1="424.29" y1="757.1" x2="424.29" y2="767"/>
<text transform="translate(420.39,778.3) rotate(-90)" font-size="16.5" text-anchor="end">CCR7-</text>
<text transform="translate(440.39,778.3) rotate(-90)" font-size="16.5" text-anchor="end">CD62L+</text>
<line class="ax" x1="465.51" y1="757.1" x2="465.51" y2="767"/>
<text transform="translate(461.61,778.3) rotate(-90)" font-size="16.5" text-anchor="end">CCR7-</text>
<text transform="translate(481.61,778.3) rotate(-90)" font-size="16.5" text-anchor="end">CD62L-</text>
<g class="pb">
<circle cx="130.8" cy="419.8" r="2.8" fill="#333"/>
<circle cx="130.8" cy="427.9" r="2.8" fill="#333"/>
<circle cx="130.5" cy="590.6" r="2.8" fill="#777"/>
<circle cx="138.4" cy="676.5" r="2.8" fill="#888"/>
<circle cx="129.8" cy="688.1" r="2.8" fill="#333"/>
<circle cx="140.0" cy="698.8" r="2.8" fill="#555"/>
<circle cx="137.7" cy="696.5" r="2.8" fill="#999"/>
<circle cx="131.9" cy="703.3" r="2.8" fill="#777"/>
<circle cx="132.1" cy="700.8" r="2.8" fill="#aaa"/>
<circle cx="131.1" cy="714.6" r="2.8" fill="#888"/>
<circle cx="133.5" cy="712.3" r="2.8" fill="#bbb"/>
<circle cx="138.5" cy="725.8" r="2.8" fill="#222"/>
<circle cx="134.2" cy="730.0" r="2.8" fill="#222"/>
<circle cx="136.9" cy="734.2" r="2.8" fill="#777"/>
<circle cx="133.8" cy="736.9" r="2.8" fill="#aaa"/>
<circle cx="140.3" cy="738.0" r="2.8" fill="#666"/>
<circle cx="140.5" cy="740.8" r="2.8" fill="#444"/>
<circle cx="133.4" cy="742.8" r="2.8" fill="#777"/>
<circle cx="172.4" cy="744.3" r="2.8" fill="#bbb"/>
<circle cx="174.5" cy="744.3" r="2.8" fill="#aaa"/>
<circle cx="177.0" cy="744.3" r="2.8" fill="#999"/>
<circle cx="179.5" cy="744.3" r="2.8" fill="#bbb"/>
<circle cx="182.4" cy="744.3" r="2.8" fill="#aaa"/>
<circle cx="224.2" cy="649.2" r="2.8" fill="#444"/>
<circle cx="221.3" cy="678.5" r="2.8" fill="#888"/>
<circle cx="221.7" cy="704.8" r="2.8" fill="#333"/>
<circle cx="221.9" cy="721.5" r="2.8" fill="#888"/>
<circle cx="218.5" cy="729.8" r="2.8" fill="#999"/>
<circle cx="223.8" cy="738.5" r="2.8" fill="#555"/>
<circle cx="221.0" cy="735.8" r="2.8" fill="#aaa"/>
<circle cx="213.3" cy="744.0" r="2.8" fill="#aaa"/>
<circle cx="216.2" cy="744.0" r="2.8" fill="#999"/>
<circle cx="221.9" cy="744.0" r="2.8" fill="#999"/>
<circle cx="219.0" cy="742.9" r="2.8" fill="#bbb"/>
<circle cx="255.7" cy="462.9" r="2.8" fill="#444"/>
<circle cx="257.0" cy="524.9" r="2.8" fill="#555"/>
<circle cx="257.5" cy="659.2" r="2.8" fill="#777"/>
<circle cx="262.3" cy="695.4" r="2.8" fill="#333"/>
<circle cx="261.7" cy="701.2" r="2.8" fill="#555"/>
<circle cx="261.7" cy="703.1" r="2.8" fill="#999"/>
<circle cx="254.8" cy="708.3" r="2.8" fill="#999"/>
<circle cx="261.0" cy="713.1" r="2.8" fill="#ccc"/>
<circle cx="256.2" cy="714.2" r="2.8" fill="#aaa"/>
<circle cx="262.7" cy="720.4" r="2.8" fill="#777"/>
<circle cx="254.2" cy="728.1" r="2.8" fill="#222"/>
<circle cx="254.8" cy="730.0" r="2.8" fill="#222"/>
<circle cx="255.6" cy="732.7" r="2.8" fill="#777"/>
<circle cx="264.8" cy="739.6" r="2.8" fill="#222"/>
<circle cx="263.3" cy="738.7" r="2.8" fill="#bbb"/>
<circle cx="256.5" cy="740.6" r="2.8" fill="#333"/>
<circle cx="255.8" cy="743.8" r="2.8" fill="#777"/>
<circle cx="339.0" cy="429.8" r="2.8" fill="#444"/>
<circle cx="339.8" cy="426.5" r="2.8" fill="#777"/>
<circle cx="346.7" cy="430.8" r="2.8" fill="#333"/>
<circle cx="345.2" cy="433.7" r="2.8" fill="#777"/>
<circle cx="346.7" cy="442.7" r="2.8" fill="#777"/>
<circle cx="346.7" cy="440.0" r="2.8" fill="#bbb"/>
<circle cx="347.3" cy="452.7" r="2.8" fill="#222"/>
<circle cx="336.5" cy="466.2" r="2.8" fill="#aaa"/>
<circle cx="339.6" cy="462.7" r="2.8" fill="#ccc"/>
<circle cx="345.6" cy="466.3" r="2.8" fill="#222"/>
<circle cx="343.8" cy="476.0" r="2.8" fill="#666"/>
<circle cx="344.6" cy="482.7" r="2.8" fill="#aaa"/>
<circle cx="346.3" cy="488.8" r="2.8" fill="#222"/>
<circle cx="342.1" cy="498.8" r="2.8" fill="#999"/>
<circle cx="346.0" cy="525.0" r="2.8" fill="#777"/>
<circle cx="338.1" cy="557.9" r="2.8" fill="#888"/>
<circle cx="341.7" cy="603.5" r="2.8" fill="#777"/>
<circle cx="337.8" cy="736.2" r="2.8" fill="#444"/>
<circle cx="340.2" cy="742.3" r="2.8" fill="#333"/>
<circle cx="383.8" cy="728.5" r="2.8" fill="#333"/>
<circle cx="378.0" cy="744.3" r="2.8" fill="#aaa"/>
<circle cx="380.3" cy="744.3" r="2.8" fill="#bbb"/>
<circle cx="382.8" cy="744.3" r="2.8" fill="#ccc"/>
<circle cx="385.5" cy="744.3" r="2.8" fill="#bbb"/>
<circle cx="388.0" cy="744.3" r="2.8" fill="#999"/>
<circle cx="420.0" cy="439.8" r="2.8" fill="#444"/>
<circle cx="423.8" cy="680.4" r="2.8" fill="#bbb"/>
<circle cx="423.5" cy="711.4" r="2.8" fill="#555"/>
<circle cx="426.5" cy="723.1" r="2.8" fill="#999"/>
<circle cx="421.2" cy="723.8" r="2.8" fill="#999"/>
<circle cx="428.1" cy="727.4" r="2.8" fill="#888"/>
<circle cx="424.7" cy="726.5" r="2.8" fill="#bbb"/>
<circle cx="420.4" cy="731.5" r="2.8" fill="#333"/>
<circle cx="426.5" cy="735.1" r="2.8" fill="#777"/>
<circle cx="429.6" cy="736.5" r="2.8" fill="#bbb"/>
<circle cx="428.1" cy="739.7" r="2.8" fill="#888"/>
<circle cx="419.2" cy="741.5" r="2.8" fill="#888"/>
<circle cx="417.6" cy="744.6" r="2.8" fill="#333"/>
<circle cx="421.9" cy="744.6" r="2.8" fill="#555"/>
<circle cx="424.2" cy="743.1" r="2.8" fill="#999"/>
<circle cx="469.0" cy="433.1" r="2.8" fill="#666"/>
<circle cx="471.5" cy="436.2" r="2.8" fill="#777"/>
<circle cx="471.3" cy="456.2" r="2.8" fill="#aaa"/>
<circle cx="460.8" cy="468.8" r="2.8" fill="#444"/>
<circle cx="466.2" cy="468.8" r="2.8" fill="#333"/>
<circle cx="465.4" cy="472.5" r="2.8" fill="#888"/>
<circle cx="471.7" cy="472.5" r="2.8" fill="#555"/>
<circle cx="464.6" cy="482.7" r="2.8" fill="#222"/>
<circle cx="469.0" cy="482.3" r="2.8" fill="#ccc"/>
<circle cx="461.3" cy="485.6" r="2.8" fill="#555"/>
<circle cx="470.2" cy="485.6" r="2.8" fill="#ccc"/>
<circle cx="460.6" cy="508.7" r="2.8" fill="#333"/>
<circle cx="470.6" cy="541.2" r="2.8" fill="#888"/>
<circle cx="462.3" cy="548.1" r="2.8" fill="#aaa"/>
<circle cx="466.5" cy="626.3" r="2.8" fill="#666"/>
<circle cx="462.3" cy="646.2" r="2.8" fill="#777"/>
<circle cx="469.6" cy="737.4" r="2.8" fill="#444"/>
<circle cx="468.1" cy="741.8" r="2.8" fill="#333"/>
<circle cx="471.5" cy="741.5" r="2.8" fill="#555"/>
</g>
</svg></body></html>
